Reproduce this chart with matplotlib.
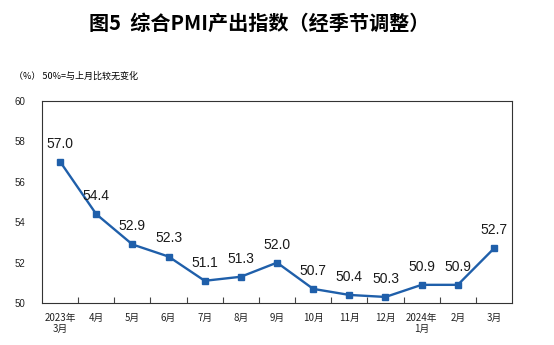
import numpy as np
import matplotlib.pyplot as plt

plt.rcParams['font.family'] = ['Liberation Sans', 'Noto Sans CJK SC', 'DejaVu Sans']

# 综合PMI产出指数（经季节调整）
months = ['2023年\n3月', '4月', '5月', '6月', '7月', '8月', '9月',
          '10月', '11月', '12月', '2024年\n1月', '2月', '3月']
pmi = [57.0, 54.4, 52.9, 52.3, 51.1, 51.3, 52.0, 50.7, 50.4, 50.3, 50.9, 50.9, 52.7]
yticks = [50, 52, 54, 56, 58, 60]

line_color = '#1f5faa'

fig = plt.figure(figsize=(5.54, 3.45), dpi=100)
ax = fig.add_axes([0.0758, 0.1217, 0.8484, 0.5855])

x = np.arange(len(months))
ax.plot(x, pmi, color=line_color, linewidth=1.7, marker='s', markersize=4.2)

for xi, v in zip(x, pmi):
    ax.annotate(f'{v:.1f}', (xi, v), xytext=(0, 8), textcoords='offset points',
                ha='center', va='bottom', fontsize=10, color='#1a1a1a')

ax.set_xlim(-0.5, len(months) - 0.5)
ax.set_ylim(50, 60)
ax.set_yticks(yticks)
ax.set_yticklabels([str(t) for t in yticks], fontsize=7, color='#222222')
ax.tick_params(axis='y', length=0, pad=12)

# category boundaries as small ticks on the bottom axis
ax.set_xticks(np.arange(-0.5, len(months) - 0.5, 1)[1:], minor=True)
ax.set_xticks(x)
ax.set_xticklabels(months, fontsize=7, family=['Noto Sans CJK SC', 'DejaVu Sans'],
                   linespacing=1.1, color='#222222')
ax.tick_params(axis='x', which='major', length=0, pad=7)
ax.tick_params(axis='x', which='minor', direction='in', length=4, width=0.8, color='#444444')

for s in ax.spines.values():
    s.set_color('#333333')
    s.set_linewidth(0.8)

fig.text(0.467, 0.933, '图5  综合PMI产出指数（经季节调整）', ha='center', va='center',
         fontsize=14.5, fontweight='bold', family=['Noto Sans CJK SC', 'DejaVu Sans'])
fig.text(0.025, 0.778, '（%） 50%=与上月比较无变化', ha='left', va='center',
         fontsize=6.5, family=['Noto Sans CJK SC', 'DejaVu Sans'])

fig.savefig('out.png', dpi=100)
